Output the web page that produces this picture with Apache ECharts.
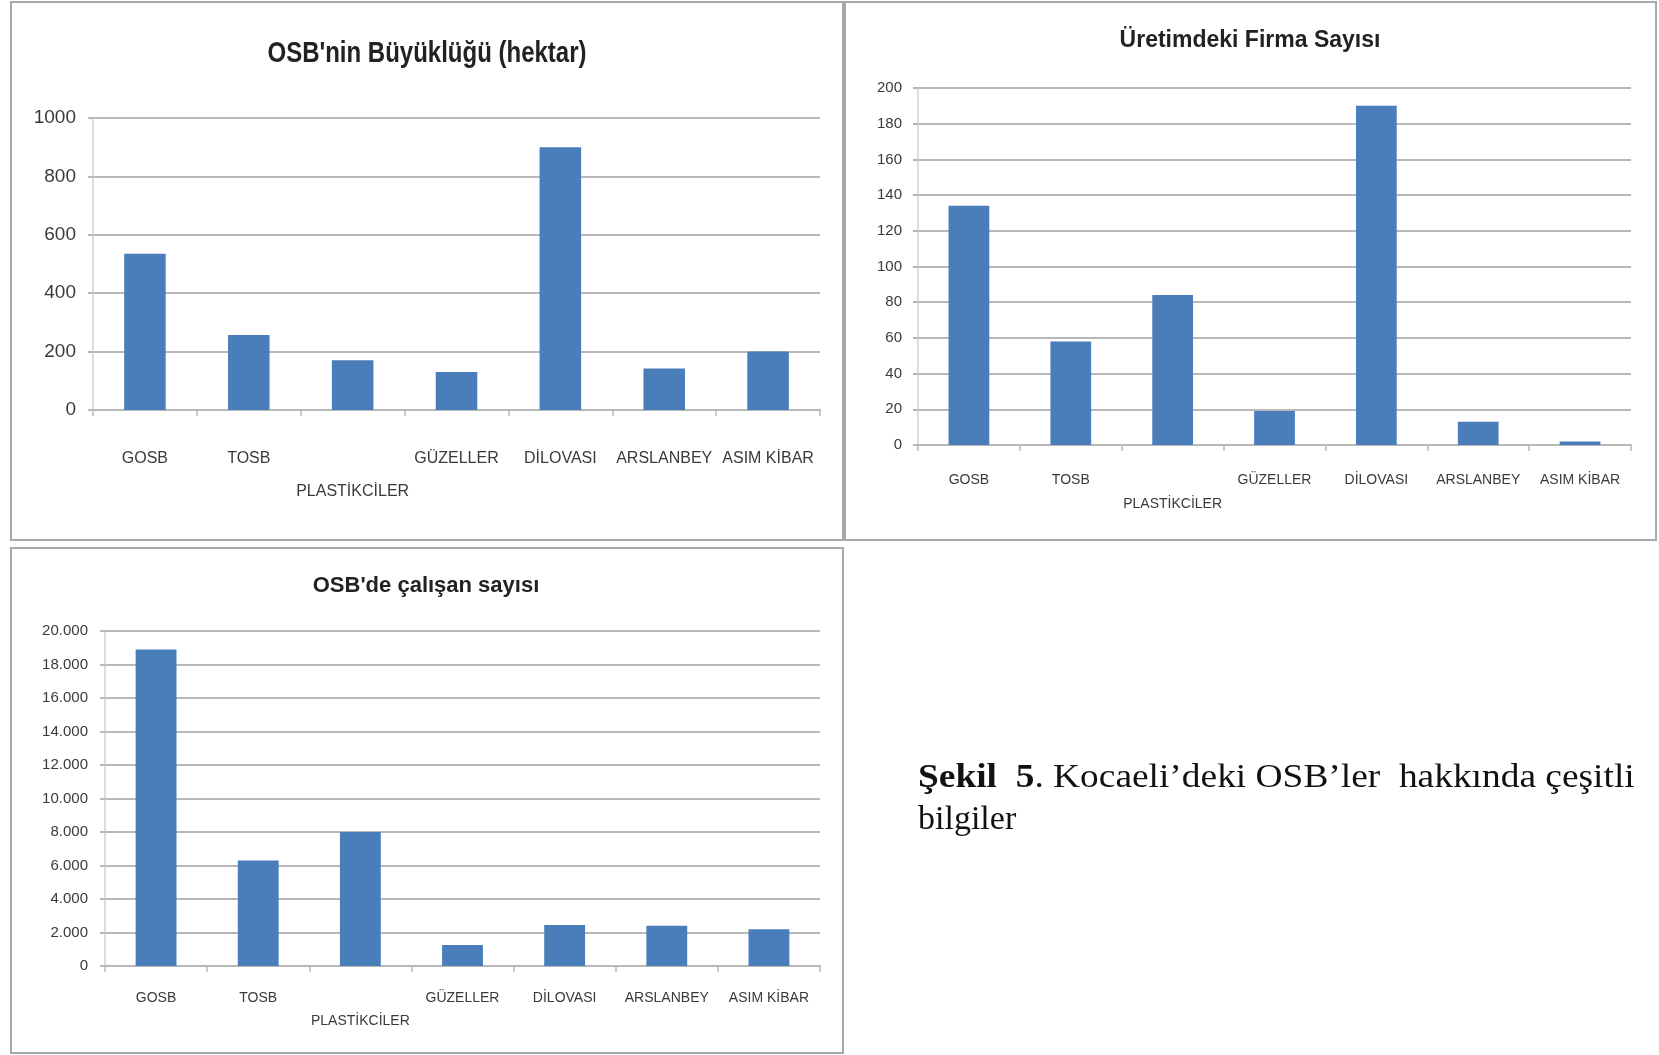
<!DOCTYPE html>
<html><head><meta charset="utf-8">
<script src="https://cdn.jsdelivr.net/npm/echarts@6/dist/echarts.min.js"></script>
<style>html,body{margin:0;padding:0;background:#fff}#c{width:1659px;height:1055px}</style>
</head><body><div id="c"></div>
<script>
const categories = ['GOSB', 'TOSB', 'PLASTİKCİLER', 'GÜZELLER', 'DİLOVASI', 'ARSLANBEY', 'ASIM KİBAR'];
const loweredLabels = ['PLASTİKCİLER'];
const sizeHectare = [535, 257, 170, 130, 900, 142, 200];
const firmCount = [134, 58, 84, 19, 190, 13, 2];
const employeeCount = [18900, 6300, 8000, 1250, 2450, 2400, 2200];
const chartTitles = ["OSB'nin Büyüklüğü (hektar)", 'Üretimdeki Firma Sayısı', "OSB'de çalışan sayısı"];
const captionBold = 'Şekil  5';
const captionRest = '. Kocaeli’deki OSB’ler  hakkında çeşitli';
const captionLine2 = 'bilgiler';

const BAR = '#4a7ebb';
const GRID = '#b8b8b8';
const TXT = '#3a3a3a';
const SANS = '"Liberation Sans", Arial, sans-serif';
const SERIF = '"Liberation Serif", "Times New Roman", serif';

const thousands = v => String(v).replace(/\B(?=(\d{3})+(?!\d))/g, '.');

function xAx(gi, size, lh, margin) {
  return {
    type: 'category', gridIndex: gi, data: categories,
    axisLine: { lineStyle: { color: GRID, width: 2 } },
    axisTick: { show: true, length: 6, lineStyle: { color: GRID, width: 1.5 } },
    axisLabel: {
      interval: 0, hideOverlap: false, margin: margin, color: TXT,
      fontFamily: SANS, fontSize: size, lineHeight: lh,
      formatter: v => loweredLabels.includes(v) ? '\n' + v : v
    }
  };
}
function yAx(gi, max, interval, size, margin, fmt) {
  return {
    type: 'value', gridIndex: gi, min: 0, max: max, interval: interval,
    axisLine: { show: true, lineStyle: { color: '#d0d0d0', width: 1.5 } },
    axisTick: { show: true, length: 5, lineStyle: { color: GRID, width: 2 } },
    splitLine: { lineStyle: { color: GRID, width: 2 } },
    axisLabel: { margin: margin, color: TXT, fontFamily: SANS, fontSize: size, formatter: fmt }
  };
}
function bar(i, data) {
  return { type: 'bar', xAxisIndex: i, yAxisIndex: i, data: data, barCategoryGap: '60%',
    itemStyle: { color: BAR }, silent: true, animation: false };
}

const chart = echarts.init(document.getElementById('c'), null, { renderer: 'canvas' });
chart.setOption({
  animation: false,
  backgroundColor: '#fff',
  grid: [
    { left: 93, top: 118, width: 727, height: 292 },
    { left: 918, top: 88, width: 713, height: 357 },
    { left: 105, top: 631, width: 715, height: 335 }
  ],
  xAxis: [
    xAx(0, 16, 33, 32),
    xAx(1, 14, 24, 23),
    xAx(2, 14, 23, 21)
  ],
  yAxis: [
    yAx(0, 1000, 200, 19, 17, v => v),
    yAx(1, 200, 20, 15, 16, v => v),
    yAx(2, 20000, 2000, 15, 17, thousands)
  ],
  series: [bar(0, sizeHectare), bar(1, firmCount), bar(2, employeeCount)],
  graphic: [
    { type: 'rect', shape: { x: 11, y: 2, width: 832, height: 538 }, style: { fill: 'none', stroke: '#a8a8a8', lineWidth: 2 }, z: -1 },
    { type: 'rect', shape: { x: 845, y: 2, width: 811, height: 538 }, style: { fill: 'none', stroke: '#a8a8a8', lineWidth: 2 }, z: -1 },
    { type: 'rect', shape: { x: 11, y: 548, width: 832, height: 505 }, style: { fill: 'none', stroke: '#a8a8a8', lineWidth: 2 }, z: -1 },
    { type: 'text', x: 427, y: 54, scaleX: 0.8, style: { text: chartTitles[0], textAlign: 'center', textVerticalAlign: 'middle', fill: '#222', font: 'bold 30px ' + SANS } },
    { type: 'text', x: 1250, y: 41, style: { text: chartTitles[1], textAlign: 'center', textVerticalAlign: 'middle', fill: '#222', font: 'bold 23px ' + SANS } },
    { type: 'text', x: 426, y: 586, style: { text: chartTitles[2], textAlign: 'center', textVerticalAlign: 'middle', fill: '#222', font: 'bold 22px ' + SANS } },
    { type: 'text', x: 918, y: 778, scaleX: 1.1, style: {
        text: '{b|' + captionBold + '}{r|' + captionRest + '}',
        textVerticalAlign: 'middle', fill: '#111',
        rich: {
          b: { fontFamily: SERIF, fontWeight: 'bold', fontSize: 34, fill: '#111' },
          r: { fontFamily: SERIF, fontSize: 34, fill: '#111' }
        }
    } },
    { type: 'text', x: 918, y: 820, style: {
        text: captionLine2, textVerticalAlign: 'middle', fill: '#111',
        font: '34px ' + SERIF
    } }
  ]
});
</script>
</body></html>
